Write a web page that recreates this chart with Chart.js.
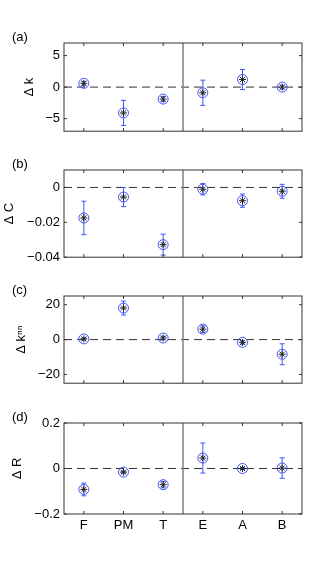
<!DOCTYPE html>
<html>
<head>
<meta charset="utf-8">
<script src="https://cdn.jsdelivr.net/npm/chart.js@4.4.1/dist/chart.umd.min.js"></script>
<style>
  body { margin: 0; background: #fff; width: 334px; height: 578px; position: relative; overflow: hidden; }
  .panel { position: absolute; left: 0; width: 334px; }
</style>
</head>
<body>
<div class="panel" style="top:28px;height:115px"><canvas id="pa"></canvas></div>
<div class="panel" style="top:155px;height:114px"><canvas id="pb"></canvas></div>
<div class="panel" style="top:281px;height:114px"><canvas id="pc"></canvas></div>
<div class="panel" style="top:408px;height:138px"><canvas id="pd"></canvas></div>
<script>
// categories along x (first three | last three, split by the vertical line)
const categories = ['F', 'PM', 'T', 'E', 'A', 'B'];

// (a) Δk
const dk = [0.6, -4.1, -1.9, -0.9, 1.2, 0.0];
const dkErr = [0.3, 2.0, 0.4, 2.0, 1.6, 0.3];
const dkTicks = [-5, 0, 5];
const dkTickLabels = ['\u22125', '0', '5'];

// (b) ΔC
const dC = [-0.0175, -0.0055, -0.0328, -0.001, -0.0076, -0.0022];
const dCErr = [0.0096, 0.0055, 0.006, 0.0033, 0.0038, 0.004];
const dCTicks = [-0.04, -0.02, 0];
const dCTickLabels = ['\u22120.04', '\u22120.02', '0'];

// (c) Δk^nn
const dknn = [0.4, 18.1, 0.9, 6.0, -1.6, -8.4];
const dknnErr = [0.6, 4.0, 1.0, 1.9, 1.0, 6.0];
const dknnTicks = [-20, 0, 20];
const dknnTickLabels = ['\u221220', '0', '20'];

// (d) ΔR
const dR = [-0.092, -0.016, -0.071, 0.046, 0.0, 0.002];
const dRErr = [0.028, 0.005, 0.014, 0.066, 0.005, 0.045];
const dRTicks = [-0.2, 0, 0.2];
const dRTickLabels = ['\u22120.2', '0', '0.2'];

const BLUE = 'rgb(64,84,250)';
const FONT = { family: "'Liberation Sans', Arial, Helvetica, sans-serif", size: 13 };

const decorations = {
  id: 'decorations',
  beforeDatasetsDraw(chart, args, o) {
    const { ctx, chartArea: a, scales: { x, y } } = chart;
    ctx.save();
    // dashed zero line
    const y0 = y.getPixelForValue(0);
    ctx.strokeStyle = '#333';
    ctx.lineWidth = 1;
    ctx.setLineDash([8, 5]);
    ctx.beginPath();
    ctx.moveTo(a.left, y0);
    ctx.lineTo(a.right, y0);
    ctx.stroke();
    ctx.setLineDash([]);
    // separator between groups
    const xs = x.getPixelForValue(3.5);
    ctx.strokeStyle = '#808080';
    ctx.lineWidth = 1.5;
    ctx.beginPath();
    ctx.moveTo(xs, a.top);
    ctx.lineTo(xs, a.bottom);
    ctx.stroke();
    // error bars
    ctx.strokeStyle = BLUE;
    ctx.lineWidth = 1;
    o.values.forEach((v, i) => {
      const px = x.getPixelForValue(i + 1);
      const t = y.getPixelForValue(v + o.errors[i]);
      const b = y.getPixelForValue(v - o.errors[i]);
      ctx.beginPath();
      ctx.moveTo(px, t); ctx.lineTo(px, b);
      ctx.moveTo(px - 2.5, t); ctx.lineTo(px + 2.5, t);
      ctx.moveTo(px - 2.5, b); ctx.lineTo(px + 2.5, b);
      ctx.stroke();
    });
    ctx.restore();
  },
  afterDraw(chart, args, o) {
    const { ctx, chartArea: a, scales: { x, y } } = chart;
    ctx.save();
    ctx.strokeStyle = '#333';
    ctx.lineWidth = 1;
    ctx.strokeRect(a.left, a.top, a.right - a.left, a.bottom - a.top);
    ctx.beginPath();
    x.ticks.forEach(t => {
      const px = x.getPixelForValue(t.value);
      ctx.moveTo(px, a.bottom); ctx.lineTo(px, a.bottom - 3);
      ctx.moveTo(px, a.top); ctx.lineTo(px, a.top + 3);
    });
    y.ticks.forEach(t => {
      const py = y.getPixelForValue(t.value);
      ctx.moveTo(a.left, py); ctx.lineTo(a.left + 3, py);
      ctx.moveTo(a.right, py); ctx.lineTo(a.right - 3, py);
    });
    ctx.stroke();
    // panel letter
    ctx.fillStyle = '#000';
    ctx.font = `${FONT.size}px ${FONT.family}`;
    ctx.textBaseline = 'alphabetic';
    ctx.fillText(o.letter, 12, a.top - 2);
    ctx.restore();
  }
};

function makePanel(id, letter, title, titlePad, values, errors, yMin, yMax, yTicks, yTickLabels, showX) {
  const pts = values.map((v, i) => ({ x: i + 1, y: v }));
  return new Chart(document.getElementById(id), {
    type: 'scatter',
    data: {
      datasets: [
        { data: pts, pointStyle: 'circle', pointRadius: 5, borderWidth: 1,
          borderColor: BLUE, backgroundColor: 'rgba(0,0,0,0)' },
        { data: pts, pointStyle: 'star', pointRadius: 3.5, borderWidth: 1,
          borderColor: '#222', backgroundColor: '#222' }
      ]
    },
    options: {
      responsive: true,
      maintainAspectRatio: false,
      animation: false,
      events: [],
      layout: { padding: { top: 15, right: 32, bottom: 8, left: 0 } },
      plugins: {
        legend: { display: false },
        tooltip: { enabled: false },
        decorations: { letter, values, errors }
      },
      scales: {
        x: {
          type: 'linear', min: 0.5, max: 6.5,
          grid: { display: false, drawTicks: false },
          border: { display: false },
          afterBuildTicks: s => { s.ticks = categories.map((c, i) => ({ value: i + 1 })); },
          afterFit: s => { s.height = showX ? 24 : 0; },
          ticks: {
            display: showX, autoSkip: false, maxRotation: 0, padding: 4,
            color: '#000', font: FONT,
            callback: (v, i) => categories[i]
          }
        },
        y: {
          min: yMin, max: yMax,
          grid: { display: false, drawTicks: false },
          border: { display: false },
          afterBuildTicks: s => { s.ticks = yTicks.map(v => ({ value: v })); },
          afterFit: s => { s.width = 64; },
          ticks: {
            autoSkip: false, padding: 4, color: '#000', font: FONT,
            callback: (v, i) => yTickLabels[i]
          },
          title: {
            display: true, text: title, color: '#000', font: FONT,
            padding: { top: titlePad, bottom: 0 }
          }
        }
      }
    },
    plugins: [decorations]
  });
}

makePanel('pa', '(a)', '\u0394 k', 22, dk, dkErr, -7, 7, dkTicks, dkTickLabels, false);
makePanel('pb', '(b)', '\u0394 C', 2, dC, dCErr, -0.04, 0.01, dCTicks, dCTickLabels, false);
makePanel('pc', '(c)', '\u0394 k\u207F\u207F', 14, dknn, dknnErr, -25, 25, dknnTicks, dknnTickLabels, false);
makePanel('pd', '(d)', '\u0394 R', 10, dR, dRErr, -0.2, 0.2, dRTicks, dRTickLabels, true);
</script>
</body>
</html>
